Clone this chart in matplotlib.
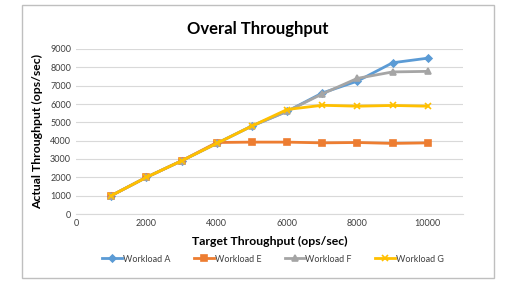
import numpy as np
import matplotlib
matplotlib.use("Agg")
import matplotlib.pyplot as plt
from matplotlib.patches import Rectangle

plt.rcParams['font.family'] = ['Lato', 'DejaVu Sans']

target = [1000, 2000, 3000, 4000, 5000, 6000, 7000, 8000, 9000, 10000]
workload_a = [1000, 2000, 2900, 3850, 4800, 5600, 6600, 7250, 8250, 8500]
workload_e = [1000, 2000, 2900, 3900, 3920, 3920, 3880, 3900, 3850, 3880]
workload_f = [1000, 2000, 2900, 3850, 4800, 5600, 6550, 7400, 7750, 7780]
workload_g = [1000, 2000, 2900, 3850, 4800, 5700, 5930, 5880, 5920, 5880]

series = [
    ("Workload A", workload_a, "#5B9BD5", "D", 3.5),
    ("Workload E", workload_e, "#ED7D31", "s", 4.5),
    ("Workload F", workload_f, "#A5A5A5", "^", 4.5),
    ("Workload G", workload_g, "#FFC000", "x", 4.5),
]

fig = plt.figure(figsize=(5.32, 2.98), dpi=100)
fig.patches.append(Rectangle((22/532, 1-278/298), 472/532, 273/298,
                             transform=fig.transFigure, fill=False,
                             edgecolor="#BFBFBF", lw=1))
ax = fig.add_axes([76/532, 1-214/298, 387/532, 165/298])

for name, vals, col, mk, ms in series:
    ax.plot(target, vals, color=col, marker=mk, markersize=ms, lw=2.0,
            label=name, markeredgewidth=1.2)

ax.set_xlim(0, 11000)
ax.set_ylim(0, 9000)
ax.set_xticks([0, 2000, 4000, 6000, 8000, 10000])
ax.set_yticks(np.arange(0, 9001, 1000))
ax.tick_params(labelsize=6.5, colors="#404040", length=0)
ax.grid(axis="y", color="#D9D9D9", lw=0.8)
ax.set_axisbelow(True)
for s in ["top", "right", "left"]:
    ax.spines[s].set_visible(False)
ax.spines["bottom"].set_color("#D9D9D9")

fig.text(258/532, 1-29/298, "Overal Throughput", fontsize=12,
         fontweight="bold", ha="center", va="center")
ax.set_xlabel("Target Throughput (ops/sec)", fontsize=8.8, fontweight="bold", labelpad=6)
ax.set_ylabel("Actual Throughput (ops/sec)", fontsize=8.8, fontweight="bold", labelpad=5)

fig.legend(loc="center", bbox_to_anchor=(273/532, 1-259/298), ncol=4,
           frameon=False, fontsize=6.5, handlelength=2.2, columnspacing=2.6,
           handletextpad=0.1, labelcolor="#404040")

fig.savefig("out.png", dpi=100)
